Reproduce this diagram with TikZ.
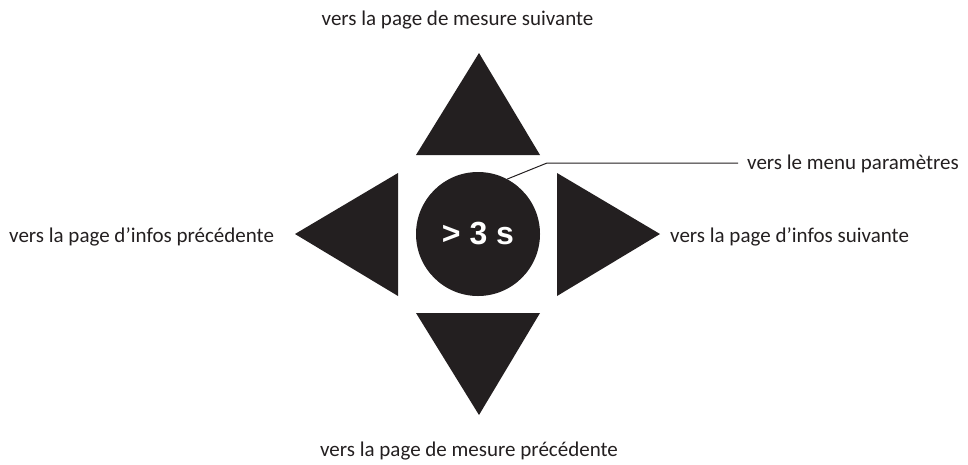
\documentclass[tikz,border=0pt]{standalone}
\usepackage{fontspec}
\setmainfont{Carlito}
\newfontfamily\arialfont{Liberation Sans}
\definecolor{ink}{HTML}{231F20}
\begin{document}
\begin{tikzpicture}[x=1pt,y=-1pt,
  lbl/.style={text=ink,font=\fontsize{21}{24}\selectfont,inner sep=0pt},
  tri/.style={fill=ink,draw=none}]
\useasboundingbox (0,0) rectangle (968,464);
% triangles
\fill[tri] (479,53) -- (540,155) -- (416,155) -- cycle;
\fill[tri] (479,415) -- (540,313) -- (416,313) -- cycle;
\fill[tri] (295,234) -- (398,173) -- (398,296) -- cycle;
\fill[tri] (660,234) -- (557,173) -- (557,296) -- cycle;
% center button
\node[circle,fill=ink,minimum size=124pt,inner sep=0pt,text=white,
  font=\arialfont\bfseries\fontsize{32}{36}\selectfont] (c) at (478,234) {> 3 s};
% labels
\node[lbl] (top) at (457.5,20) {vers la page de mesure suivante};
\node[lbl] (bot) at (469,451) {vers la page de mesure précédente};
\node[lbl,anchor=west] (left) at (9,237) {vers la page d’infos précédente};
\node[lbl,anchor=west] (right) at (670,237) {vers la page d’infos suivante};
\node[lbl,anchor=west] (menu) at (747,164) {vers le menu paramètres};
\coordinate (k) at (547,163);
\draw[ink,line width=1pt] (c.62) -- (k) -- (738,163);
\end{tikzpicture}
\end{document}
